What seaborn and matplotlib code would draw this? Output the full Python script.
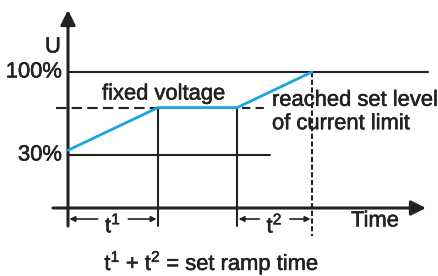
import matplotlib
matplotlib.use("Agg")
import matplotlib.pyplot as plt
import matplotlib.patheffects as pe
import seaborn as sns
import pandas as pd

# soft start voltage profile: time in units of t1, voltage in %
ramp_time = [0.0, 1.0, 1.88, 2.71]
ramp_volt = [34, 70, 70, 100]
level_labels = ["100%", "30%"]
level_values = [100, 30]
level_ends = [4.0, 2.24]
fixed_level = 70

sns.set_theme(style="white")
plt.rcParams["font.family"] = ["Liberation Sans", "DejaVu Sans"]
plt.rcParams["mathtext.fontset"] = "custom"
plt.rcParams["mathtext.rm"] = "Liberation Sans"
plt.rcParams["mathtext.it"] = "Liberation Sans"

INK = "#222222"
BLUE = "#1ba3e0"
FS = 15.8
# slight stroke so the text looks as heavy as the scanned original
HEAVY = [pe.withStroke(linewidth=0.4, foreground=INK)]


# pixel -> data helpers for the diagram layout
def dx(px):
    return (px - 68) / 90.0


def dy(py):
    return 30 - (py - 155) / 1.1857


def label(x, y, s, **kw):
    kw.setdefault("ha", "center")
    kw.setdefault("va", "center")
    return ax.text(x, y, s, fontsize=FS, color=INK, path_effects=HEAVY, **kw)


fig = plt.figure(figsize=(4.38, 2.76), dpi=100)
ax = fig.add_axes([0, 0, 1, 1])
ax.set_xlim(dx(0), dx(438))
ax.set_ylim(dy(276), dy(0))
ax.axis("off")

# level lines
for lvl, end in zip(level_values, level_ends):
    ax.plot([0, end], [lvl, lvl], color=INK, lw=1.5)
for lab, lvl in zip(level_labels, level_values):
    label(dx(62), lvl, lab, ha="right")

# fixed voltage dashed marks
ax.plot([dx(56), ramp_time[1]], [fixed_level, fixed_level], color=INK, lw=1.5,
        linestyle=(0, (5, 2.5)))
ax.plot([dx(242), dx(268)], [fixed_level, fixed_level], color=INK, lw=1.5,
        linestyle=(0, (4, 2.5)))

# vertical markers
ax.plot([ramp_time[1]] * 2, [fixed_level, dy(226)], color=INK, lw=1.5)
ax.plot([ramp_time[2]] * 2, [fixed_level, dy(226)], color=INK, lw=1.5)
ax.plot([ramp_time[3]] * 2, [ramp_volt[3], dy(236)], color=INK, lw=1.5,
        linestyle=(0, (2.5, 1.2)))

# voltage ramp
prof = pd.DataFrame({"time": ramp_time, "volt": ramp_volt})
sns.lineplot(data=prof, x="time", y="volt", ax=ax, color=BLUE, lw=2,
             estimator=None, sort=False, zorder=5)

# axes with arrows
ax.annotate("", xy=(dx(426), dy(208)), xytext=(dx(53), dy(208)),
            arrowprops=dict(arrowstyle="-|>", lw=2.2, color=INK,
                            mutation_scale=22, shrinkA=0, shrinkB=0))
ax.annotate("", xy=(0, dy(10)), xytext=(0, dy(226)),
            arrowprops=dict(arrowstyle="-|>", lw=2.2, color=INK,
                            mutation_scale=22, shrinkA=0, shrinkB=0))

# span arrows
arrow_y = dy(219)
spans = [(0, ramp_time[1], r"t$^1$"), (ramp_time[2], ramp_time[3], r"t$^2$")]
for a, b, lab in spans:
    mid = (a + b) / 2
    for start, tip in [(mid - 0.17, a), (mid + 0.17, b)]:
        ax.annotate("", xy=(tip, arrow_y), xytext=(start, arrow_y),
                    arrowprops=dict(arrowstyle="-|>", lw=1.2, color=INK,
                                    mutation_scale=8, shrinkA=0, shrinkB=1))
    label(mid, dy(226), lab)

# labels
label(dx(53), dy(47), "U")
label(dx(102), dy(94), "fixed voltage", ha="left")
label(dx(272), dy(112), "reached set level\nof current limit", ha="left",
      linespacing=1.15)
label(dx(375), dy(221), "Time")
label(dx(212), dy(263), r"t$^1$ + t$^2$ = set ramp time")

fig.savefig("out.png", dpi=100)
